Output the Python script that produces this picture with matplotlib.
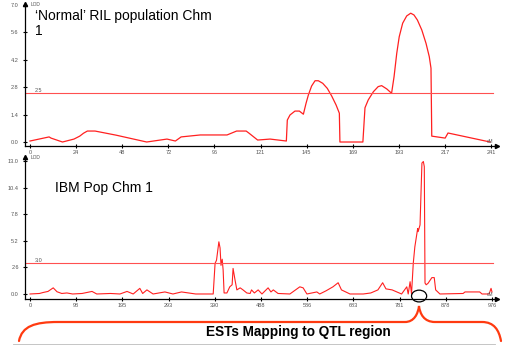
import matplotlib
matplotlib.use("Agg")
import matplotlib.pyplot as plt
from matplotlib.path import Path
from matplotlib.patches import PathPatch, Ellipse
import numpy as np

# ---------------- data ----------------
top_cm = [0, 10, 11, 17, 23, 26, 28, 30, 34, 45, 61, 71.6, 76, 79, 89, 103, 108, 113, 114.5, 119,
          125.5, 134, 134.5, 135.9, 138.5, 140.8, 142.9, 144.3, 145.5, 147.2, 149, 150.7, 153,
          155.4, 157.7, 160, 161.7, 162, 174, 175.1, 176.8, 179.5, 182, 183.8, 186.5, 189, 190.3,
          191.7, 193, 194.8, 196.9, 199, 200.7, 202.5, 204.8, 207, 208.7, 209.6, 210, 217, 218.5,
          240.5]
top_lod = [0.05, 0.26, 0.2, 0.0, 0.15, 0.3, 0.45, 0.56, 0.56, 0.35, 0.0, 0.15, 0.05, 0.26, 0.36, 0.36,
           0.56, 0.56, 0.45, 0.1, 0.15, 0.05, 1.12, 1.38, 1.58, 1.58, 1.42, 1.98, 2.4, 2.86, 3.13,
           3.13, 3.0, 2.74, 2.35, 1.89, 1.47, 0.0, 0.0, 1.75, 2.15, 2.57, 2.83, 2.88, 2.71, 2.49,
           3.34, 4.53, 5.38, 6.07, 6.44, 6.58, 6.49, 6.23, 5.72, 5.04, 4.36, 3.77, 0.3, 0.2, 0.46,
           0.0]
top_xticks = ["0", "24", "48", "72", "96", "121", "145", "169", "193", "217", "241"]
top_yticks = [0.0, 1.4, 2.8, 4.2, 5.6, 7.0]
top_threshold = 2.5

bot_cm = [0, 20, 28, 38, 49, 57, 67, 78, 90, 110, 131, 141, 170, 190, 205, 218, 232, 238, 247, 260,
          285, 302, 320, 335, 350, 387, 391, 394, 399, 401.5, 403.5, 406, 408, 410, 416, 422, 427,
          429, 433, 437, 444, 450, 458, 465, 468, 474, 482, 490, 503, 509, 514, 524, 549, 564, 570,
          577, 585, 606, 612, 625, 640, 651, 658, 676, 704, 720, 735, 745, 752, 765, 775, 785, 796,
          799, 803, 806, 809.7, 813, 819, 820, 824, 826, 828, 831, 833, 834.5, 837, 841, 849, 854,
          857, 866, 915, 919, 950, 955, 970, 974, 976]
bot_lod = [0.0, 0.05, 0.15, 0.25, 0.6, 0.22, 0.05, 0.1, 0.0, 0.05, 0.25, 0.0, 0.05, 0.0, 0.25, 0.0,
           0.55, 0.05, 0.4, 0.0, 0.2, 0.0, 0.2, 0.1, 0.0, 0.0, 3.0, 3.3, 5.1, 4.5, 2.8, 3.4, 2.35, 0.1,
           0.1, 0.7, 0.9, 2.5, 1.4, 0.4, 0.6, 0.4, 0.1, 0.05, 0.4, 0.1, 0.4, 0.0, 0.6, 0.2, 0.4, 0.05,
           0.0, 0.5, 0.7, 0.6, 0.0, 0.2, 0.0, 0.3, 0.7, 1.1, 0.4, 0.0, 0.0, 0.1, 0.4, 1.1, 0.5, 0.4,
           0.2, 0.0, 0.7, 0.0, 1.2, 0.0, 3.0, 4.6, 6.4, 6.1, 6.75, 9.8, 12.8, 12.95, 12.45, 1.07, 0.9,
           1.05, 1.6, 1.6, 0.4, 0.0, 0.05, 0.2, 0.2, 0.0, 0.0, 0.55, 0.2]
bot_xticks = ["0", "98", "195", "293", "390", "488", "586", "683", "781", "878", "976"]
bot_yticks = [0.0, 2.6, 5.2, 7.8, 10.4, 13.0]
bot_threshold = 3.0
qtl_cm = 822

top_title = "\u2018Normal\u2019 RIL population Chm\n1"
bot_title = "IBM Pop Chm 1"
caption = "ESTs Mapping to QTL region"

# ---------------- figure ----------------
W, H = 505, 345
fig = plt.figure(figsize=(W / 100, H / 100), dpi=100)
plt.rcParams['font.family'] = ['Liberation Sans', 'DejaVu Sans']


def fr(x, y):
    return (x / W, 1 - y / H)


def add_axes_px(left, right, top, bottom):
    return fig.add_axes([left / W, 1 - bottom / H, (right - left) / W, (bottom - top) / H])


RED = '#ff2020'
THR = '#ff5050'


def style(ax, xmax, xlabels, yticks, ylim, xlim, thr):
    ax.set_xlim(*xlim)
    ax.set_ylim(*ylim)
    for s in ['top', 'right']:
        ax.spines[s].set_visible(False)
    for s in ['left', 'bottom']:
        ax.spines[s].set_linewidth(0.9)
        ax.spines[s].set_color('black')
    ax.set_xticks(np.linspace(0, xmax, len(xlabels)))
    ax.set_xticklabels(xlabels)
    ax.set_yticks(yticks)
    ax.set_yticklabels([f"{v:.1f}" for v in yticks])
    ax.tick_params(axis='both', direction='inout', length=3, width=0.8, labelsize=4,
                   colors='black', labelcolor='#555555')
    ax.tick_params(axis='x', pad=1.5)
    ax.tick_params(axis='y', pad=3)
    ax.patch.set_alpha(0)
    ax.plot([0], [1], marker='^', color='black', markersize=3, transform=ax.transAxes, clip_on=False)
    ax.plot([1], [0], marker='>', color='black', markersize=3, transform=ax.transAxes, clip_on=False)
    ax.axhline(thr, xmin=0, xmax=0.992, color=THR, linewidth=0.8)
    ax.text(xlim[0] + (xlim[1] - xlim[0]) * 0.02, thr, f"{thr:.1f}", fontsize=4, color='#555555',
            va='bottom', ha='left')
    ax.text(0.012, 1.0, "LOD", transform=ax.transAxes, fontsize=3.5, color='#555555', va='center', ha='left')
    ax.text(0.985, 0.012, "cM", transform=ax.transAxes, fontsize=3.5, color='#555555', va='bottom', ha='center')


# top panel
ax1 = add_axes_px(25, 497, 4, 146)
ax1.plot(top_cm, top_lod, color=RED, linewidth=0.9)
style(ax1, 241, top_xticks, top_yticks, (-0.204, 7.05), (-2.6, 244.1), top_threshold)

# bottom panel
ax2 = add_axes_px(25, 497, 157, 299)
ax2.plot(bot_cm, bot_lod, color=RED, linewidth=0.8)
style(ax2, 976, bot_xticks, bot_yticks, (-0.49, 13.39), (-10.6, 986.6), bot_threshold)
ax2.add_patch(Ellipse((qtl_cm, -0.2), width=32, height=1.15, fill=False, edgecolor='black',
                      linewidth=0.9, clip_on=False, zorder=5))

# titles
fig.text(*fr(35, 9), top_title, fontsize=10, ha='left', va='top', linespacing=1.05)
fig.text(*fr(55, 192), bot_title, fontsize=10, ha='left', va='baseline')
fig.text(*fr(298, 336), caption, fontsize=9.8, fontweight='bold', ha='center', va='baseline')

# brace
pts = [(19, 341), (22, 326), (35, 322), (58, 322),
       (405, 322),
       (414, 322), (418, 314), (419, 306),
       (420, 314), (424, 322), (435, 322),
       (482, 322),
       (494, 322), (499, 330), (501, 341)]
codes = [Path.MOVETO, Path.CURVE4, Path.CURVE4, Path.CURVE4,
         Path.LINETO,
         Path.CURVE4, Path.CURVE4, Path.CURVE4,
         Path.CURVE4, Path.CURVE4, Path.CURVE4,
         Path.LINETO,
         Path.CURVE4, Path.CURVE4, Path.CURVE4]
path = Path([fr(x, y) for x, y in pts], codes)
fig.patches.append(PathPatch(path, transform=fig.transFigure, fill=False, edgecolor='#ff3a10',
                             linewidth=1.6, capstyle='round'))

# faint table edge at bottom
fig.add_artist(plt.Line2D([13 / W, 495 / W], [1 - 343.5 / H] * 2, color='#bbbbbb', linewidth=0.6,
                          transform=fig.transFigure))

fig.savefig("out.png", dpi=100)
